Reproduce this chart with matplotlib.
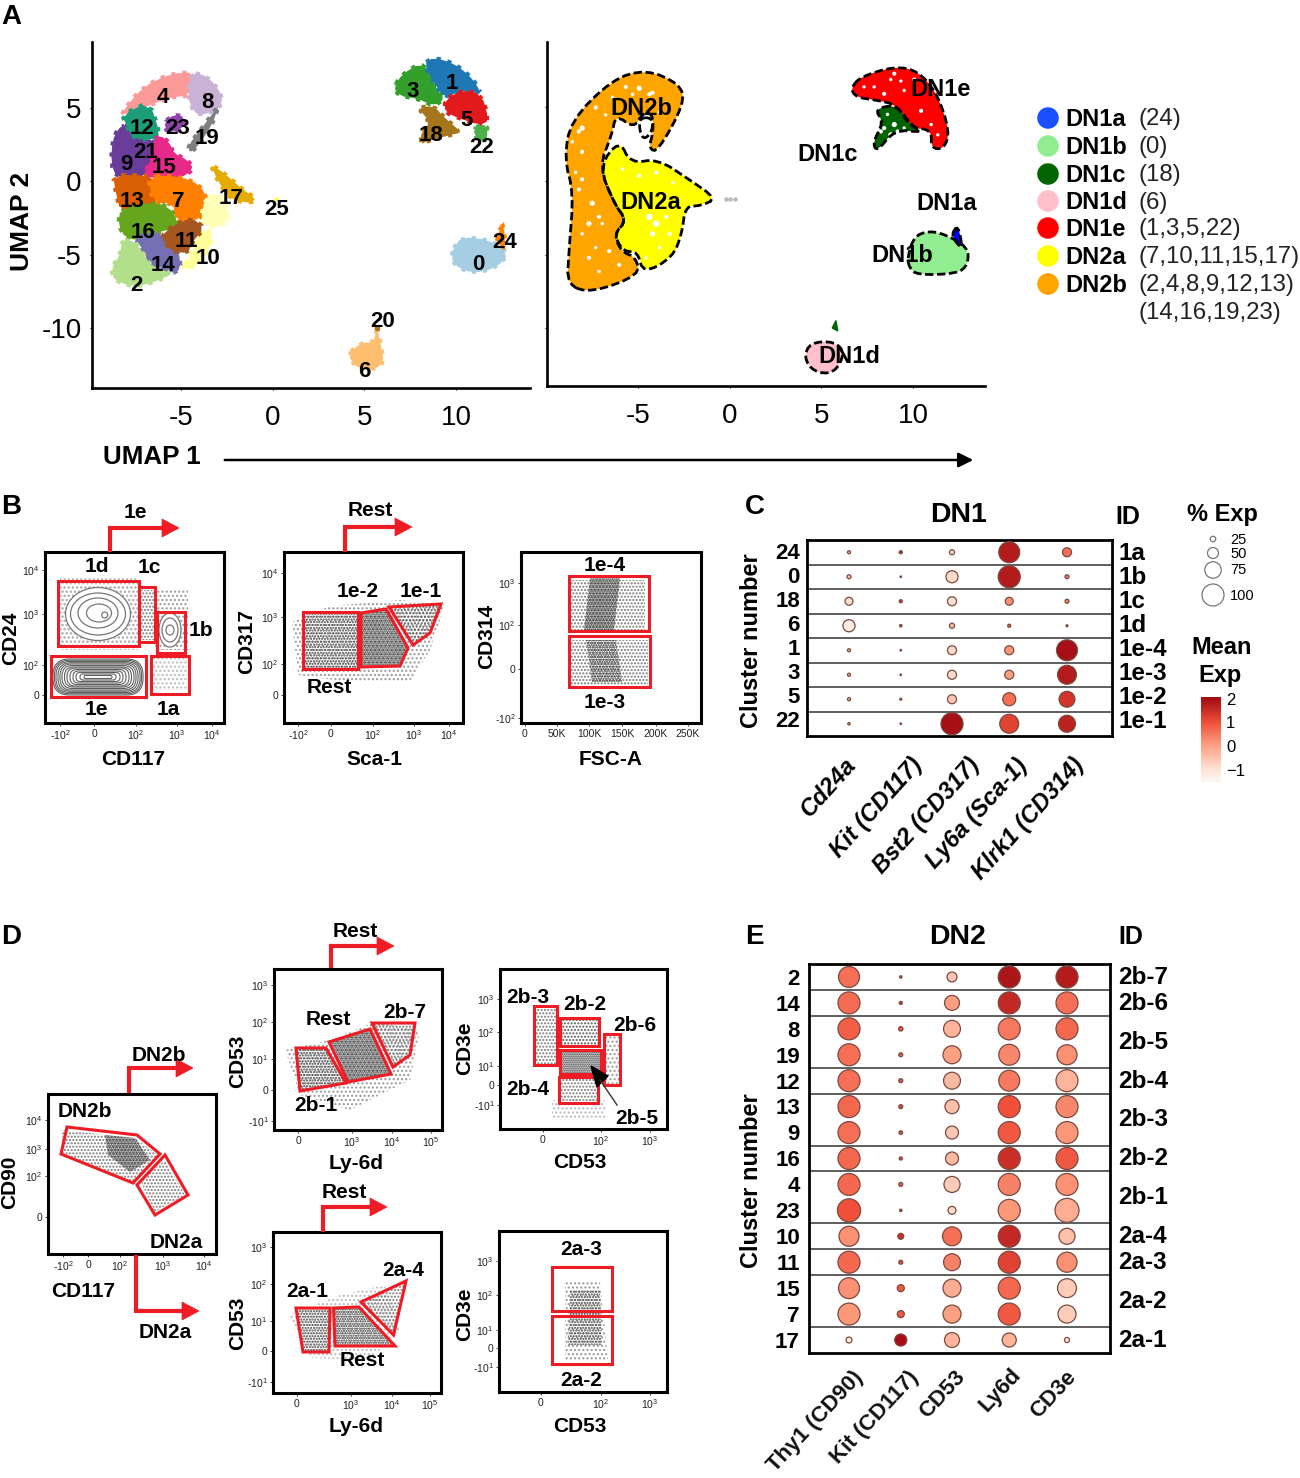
import numpy as np
import matplotlib
matplotlib.use('Agg')
import matplotlib.pyplot as plt
from matplotlib.patches import Polygon, Ellipse, FancyBboxPatch
from matplotlib.colors import LinearSegmentedColormap, Normalize

plt.rcParams['font.family'] = ['Liberation Sans', 'DejaVu Sans']
plt.rcParams['mathtext.fontset'] = 'custom'
plt.rcParams['mathtext.rm'] = 'Liberation Sans'
plt.rcParams['mathtext.bf'] = 'Liberation Sans:bold'
plt.rcParams['mathtext.default'] = 'regular'
plt.rcParams['axes.unicode_minus'] = False

W, H = 1300, 1478
RED = '#EE1C25'

# ---------- panel A data (UMAP coordinates) ----------
cluster_colors = {
    '2': '#B2DF8A', '10': '#FFFF99', '10b': '#FFFFB8', '4': '#FB9A99', '8': '#CAB2D6', '19': '#7F7F7F',
    '23': '#8E44AD', '12': '#1B9E77', '9': '#6A3D9A', '15': '#E7298A', '13': '#D95F02', '7': '#FF7F00',
    '16': '#66A61E', '14': '#7570B3', '11': '#A6561F', '17': '#E6AB02', '1': '#1F78B4', '3': '#33A02C',
    '5': '#E31A1C', '18': '#A6761D', '22': '#4DAF4A', '0': '#A6CEE3', '24': '#FF7F00', '6': '#FDBF6F',
    '20': '#A6761D',
}
cluster_shapes = {
    '4': [(-8.2,4.7),(-7.07,6.4),(-5.56,7.3),(-4.2,7.4),(-4.5,5.8),(-5.56,5.7),(-6.6,5.2),(-8,4.5)],
    '8': [(-4.4,7.4),(-3.5,7.1),(-2.7,5.8),(-2.9,4.9),(-4.05,4.4),(-4.5,5.2),(-4.6,6.1)],
    '19': [(-2.9,5.2),(-3.3,3.8),(-4.05,2.4),(-4.5,1.9),(-4.6,2.4),(-3.85,3.6),(-3.2,4.7)],
    '23': [(-5.9,4.0),(-5.4,4.5),(-4.8,4.4),(-4.9,3.5),(-5.75,3.3)],
    '9': [(-8.2,3.8),(-7.7,3.6),(-7.4,2.9),(-6.4,2.8),(-6.3,1.5),(-6.9,0.3),(-8.2,0.2),(-8.7,0.6),(-8.8,2),(-8.6,3.2)],
    '12': [(-8.2,4.5),(-6.7,5.4),(-6.1,3.1),(-6.5,2.8),(-7.6,2.9),(-7.9,3.6)],
    '15': [(-6.5,2.8),(-6.1,3.1),(-5.6,2.6),(-5.4,1.9),(-4.6,1.4),(-4.3,0.8),(-5,0.2),(-6.2,0.2),(-7.1,0.3),(-6.6,1.5)],
    '13': [(-8.7,0.4),(-6.8,0.4),(-6.3,-0.2),(-6.4,-1.9),(-8.3,-2),(-8.5,-1)],
    '7': [(-6.8,0.4),(-5,0.3),(-3.9,-0.3),(-3.5,-1.5),(-4.1,-2.8),(-5.3,-2.7),(-5.4,-1.5),(-6.5,-1.5)],
    '16': [(-8.3,-1.9),(-6.2,-1.4),(-5.3,-2.2),(-5.2,-3.2),(-6.3,-3.5),(-6.8,-4.1),(-8,-3.9),(-8.4,-3)],
    '10': [(-5,-5.9),(-4.4,-5),(-4.1,-3.8),(-3.6,-3.2),(-3.2,-3.9),(-3.8,-5.4),(-4.5,-6)],
    '10b': [(-3.7,-1.2),(-2.8,-0.8),(-2.3,-2.4),(-2.6,-3),(-3.5,-3.2),(-3.9,-2.6)],
    '14': [(-7.5,-3.9),(-6.3,-3.4),(-5.9,-3.9),(-5.1,-4.8),(-5.0,-6),(-5.5,-6.3),(-6.7,-5.8),(-7,-4.8)],
    '11': [(-5.4,-3),(-4.4,-2.5),(-3.7,-3.2),(-4.4,-4.2),(-4.6,-4.9),(-5.5,-4.8),(-6.1,-3.8)],
    '2': [(-8.2,-4.0),(-7.5,-4.1),(-7,-5),(-6.6,-5.8),(-5.4,-6.3),(-6.5,-6.9),(-7.5,-7.2),(-8.6,-6.8),(-8.8,-6),(-8.3,-5)],
    '17': [(-3.4,1.2),(-2.5,0.4),(-1.7,-0.5),(-0.9,-1.2),(-1.2,-1.5),(-2.2,-1.3),(-2.9,-0.2)],
    '3': [(6.6,6.4),(7.1,7.3),(8.05,8),(8.6,7.4),(8.9,6.3),(9.4,5.6),(8.8,5.1),(7.9,5.6),(6.9,5.8)],
    '1': [(8.24,8),(8.8,8.4),(9.9,8),(10.9,7),(11.4,5.9),(10.3,6.2),(9.4,5.6),(8.8,6.7)],
    '5': [(9.4,5.5),(10.3,6.2),(11.4,5.9),(11.8,4.1),(11.3,3.8),(10.1,4.3),(9.4,4.7)],
    '18': [(7.9,5),(8.8,5.1),(9.3,4.4),(10.3,3.3),(9.6,3.1),(8.4,2.7),(8.1,2.5),(8.1,3.3),(8.6,4)],
    '22': [(10.9,3.6),(11.7,3.9),(11.7,2.8),(11.2,2.7)],
    '0': [(9.75,-4.8),(10.3,-3.8),(11.8,-4),(12.9,-4.9),(12.2,-5.9),(10.9,-6.3),(9.85,-5.7)],
    '24': [(12.4,-3.2),(12.6,-3),(12.7,-4.6),(12.2,-4.2)],
    '6': [(4.08,-11.8),(4.85,-11),(5.5,-11),(5.7,-10),(5.9,-11.1),(6.07,-12.3),(5.6,-12.8),(4.65,-12.8)],
}
cluster_labels = ['4','8','12','23','19','21','9','15','13','7','17','25','16','11','14','10','2','3','1','5','18','22','24','0','20','6']
cluster_label_x = [163,207,142,178,207,146,126,164,132,178,231,277,143,186,163,208,136,413,452,467,431,482,505,478,383,364]
cluster_label_y = [96,101,127,127,137,151,163,166,200,200,197,208,231,240,264,257,284,90,82,119,134,146,241,263,320,370]

dn_colors = {'DN2b': '#FFA500', 'DN2a': '#FFFF00', 'DN1e': '#FF0000', 'DN1c': '#006400',
             'DN1b': '#90EE90', 'DN1a': '#0000FF', 'DN1d': '#FFC0CB'}
dn_shapes = {
    'DN2b': [(-8.85,-7.1),(-7.5,-7.6),(-4.9,-6.4),(-5.1,-5.2),(-5.9,-4.8),(-6.3,-3.6),(-5.6,-2.7),(-6.3,-1.5),(-7.1,1),(-6.4,3.2),(-6.2,4.5),
             (-5.2,3.6),(-4.75,4.6),(-4.2,4.6),(-4.15,3.4),(-4.4,2.2),(-3.9,2),(-2.45,5.3),(-2.7,6.6),(-4.55,7.6),(-6.4,6.9),(-8.65,4.1),(-9,1.5),(-8.5,-0.8),(-8.75,-4.8)],
    'DN2a': [(-6,2.8),(-5.4,1.2),(-3.9,1.5),(-2.2,0.1),(-0.7,-1.2),(-1.6,-1.7),(-2.4,-1.7),(-2.6,-3.6),(-3.1,-5.2),(-4.7,-6.3),(-5,-4.8),(-5.8,-4.8),(-6.3,-3.6),(-5.6,-2.7),(-6.3,-1.5),(-7.1,1)],
    'DN1e': [(6.6,6.3),(7.15,7.1),(9,7.8),(10.25,7.5),(11.3,6),(12,3.4),(11.7,2.2),(11,2.2),(11,3.5),(9.9,3.6),(9.1,5.2),(8,5.5),(6.9,5.7)],
    'DN1c': [(7.9,4.9),(9.1,5.2),(9.9,3.8),(10.6,3.3),(9,3.5),(8.05,2.0),(7.8,2.6),(8.4,4)],
    'DN1b': [(9.7,-5.2),(9.8,-5.9),(10.25,-6.4),(12.4,-6.3),(13,-5.7),(13,-4.5),(11.7,-3.6),(10.8,-3.4),(10.05,-3.8)],
    'DN1a': [(12.1,-3.6),(12.45,-3),(12.7,-4.5),(12.4,-4.3)],
    'DN1d': [(4.05,-12),(4.4,-11),(5.7,-10.9),(6.3,-11.7),(5.7,-13.1),(4.6,-13)],
}
# gaps between the cells in the right UMAP
speck_x = [-8.21,-8.03,-8.39,-8.03,-7.48,-7.11,-6.93,-7.66,-7.29,-6.56,-5.65,-4.92,-4.19,-3.46,-6.38,-7.29,-8.03,-8.57,-6.75,-3.82,
           -8.2,-7.66,-8.03,-7.11,-6.01,-4.37,-5.28,-4.37,-4.0,-4.19,-3.46,-3.82,-4.92,-4.0,-3.27,-3.82,-4.55,-5.83,-3.09,
           7.88,8.98,8.79,9.52,10.44,10.99,7.33,8.43,11.35,10.07,9.34,8.43,8.98,9.16,8.25,8.79,9.52,8.61]
speck_y = [3.37,3.6,0.58,0.12,-1.51,-2.44,-2.91,-5.23,-4.53,-4.77,6.4,6.3,6.0,5.3,5.7,5.0,1.98,2.67,4.5,4.7,
           -0.58,-2.9,-3.6,-6.16,-5.7,5.9,5.9,-2.44,-2.9,-3.6,-2.44,-1.74,0.35,0.58,-3.6,-4.53,-5.23,0.81,-0.12,
           6.4,7.3,6.9,6.16,4.77,3.84,6.4,5.93,3.14,6.9,6.8,3.6,3.84,3.37,3.37,3.14,3.6,4.53]
speck_s = [9,14,6,9,14,9,6,9,6,9,9,14,9,6,6,9,9,6,6,6,9,14,6,6,9,9,6,22,22,14,9,6,9,9,9,6,6,6,6,6,9,6,6,9,6,6,9,6,9,6,9,14,9,9,14,6,6]
dn_loop = [(-4.9,4.3),(-4.2,4.3),(-4.2,3.4),(-4.65,2.8),(-4.9,3.4)]
dn_tip = [(5.6,-10),(5.8,-9.5),(5.9,-10.2)]
dn_stray_x = [-0.2, 0.0, 0.3]
dn_stray_y = [-1.2, -1.2, -1.25]
dn_labels = ['DN2b','DN2a','DN1e','DN1c','DN1a','DN1b','DN1d']
dn_label_x = [641,651,941,828,947,902,849]
dn_label_y = [107,201,88,153,202,254,355]

legend_names = ['DN1a','DN1b','DN1c','DN1d','DN1e','DN2a','DN2b']
legend_ids = ['(24)','(0)','(18)','(6)','(1,3,5,22)','(7,10,11,15,17)','(2,4,8,9,12,13)']
umap_ticks_x = [-5, 0, 5, 10]
umap_ticks_y = [-10, -5, 0, 5]

# ---------- dot plots ----------
c_genes = ['Cd24a','Kit (CD117)','Bst2 (CD317)','Ly6a (Sca-1)','Klrk1 (CD314)']
c_clusters = ['24','0','18','6','1','3','5','22']
c_ids = ['1a','1b','1c','1d','1e-4','1e-3','1e-2','1e-1']
c_pct = [[14,14,23,95,41],[18,7,55,100,18],[36,14,41,36,18],[55,11,23,14,9],
         [14,7,41,41,95],[14,7,41,41,86],[14,9,41,59,72],[11,7,100,86,77]]
c_mean = [[-0.3,1.6,-0.8,1.8,0.6],[-0.5,1.9,-0.9,1.8,0.5],[-1,1.2,-1,0.2,0.4],[-1.3,1.0,-0.5,0.8,0.8],
          [-0.3,0.5,-0.9,0.1,2],[-0.3,0.5,-0.9,0,1.8],[-0.3,0.5,-0.6,0.6,1.4],[-0.3,0.5,2,1.2,1.7]]
c_breaks = [0.5,1.5,2.5,3.5,4.5,5.5,6.5]

e_genes = ['Thy1 (CD90)','Kit (CD117)','CD53','Ly6d','CD3e']
e_clusters = ['2','14','8','19','12','13','9','16','4','23','10','11','15','7','17']
e_ids = ['2b-7','2b-6','2b-5','2b-4','2b-3','2b-2','2b-1','2a-4','2a-3','2a-2','2a-1']
e_id_rows = [0,1,2.5,4,5.5,7,8.5,10,11,12.5,14]
e_pct = [[95,11,45,100,100],[100,14,68,100,100],[100,20,77,100,100],[100,18,82,95,91],[100,18,77,95,100],
         [100,18,64,100,100],[100,16,59,100,100],[100,14,59,100,100],[100,18,73,100,100],[105,11,36,100,109],
         [91,27,86,100,73],[100,18,77,100,91],[95,32,82,100,86],[100,32,82,100,82],[27,55,68,64,23]]
e_mean = [[0.6,1.2,-0.6,1.9,1.8],[0.65,1.2,0,1.6,0.6],[0.8,0.9,-0.3,0.5,0.7],[0.6,0.9,0,0.3,0.2],[0.6,1,-0.4,0.5,-0.3],
          [0.7,1.1,-0.5,1,0.3],[0.6,1.1,-0.6,0.9,0.1],[0.7,1.1,-0.4,1.5,0.9],[0.7,0.8,-0.7,0.4,0.2],[1,1.1,-0.9,0.1,-0.2],
          [0.2,1.5,0.6,1.6,-0.5],[0.7,1.1,0.4,1.2,0.2],[0.2,0.9,-0.2,0.7,-0.7],[0.1,0.9,0,0.9,-0.7],[-1.2,2,-0.3,-0.3,-1.2]]
e_breaks = [0.5,1.5,3.5,4.5,6.5,7.5,9.5,10.5,11.5,13.5]

size_legend = [25,50,75,100]
cbar_ticks = [2,1,0,-1]

# ---------- flow panels, in reference pixel channels ----------
e2 = '$10^{2}$'; e3 = '$10^{3}$'; e4 = '$10^{4}$'; e5 = '$10^{5}$'; e1 = '$10^{1}$'
m2 = '-$10^{2}$'; m1 = '-$10^{1}$'

flow_panels = [
    dict(box=(45,224,552,723), xt=[60,94,136,177,212], xl=[m2,'0',e2,e3,e4], yt=[570,614,665,695], yl=[e4,e3,e2,'0'],
         clouds=[([(60,585),(138,585),(138,645),(60,645)],'..'),([(60,578),(138,578),(138,650),(60,650)],'.'),
                 ([(140,590),(154,590),(154,640),(140,640)],'...'),([(155,590),(188,590),(188,650),(155,650)],'..'),
                 ([(153,658),(187,658),(187,690),(153,690)],'.')],
         gates=[[(57.6,581),(139,581),(139,646),(57.6,646)],[(139,587),(155,587),(155,642),(139,642)],
                [(157,612),(185,612),(185,653),(157,653)],[(51,656),(146,656),(146,697),(51,697)],
                [(151,656),(189,656),(189,694),(151,694)]]),
    dict(box=(284,463,552,723), xt=[298,331,373,414,449], xl=[m2,'0',e2,e3,e4], yt=[573,617,664,695], yl=[e4,e3,e2,'0'],
         clouds=[([(292,622),(330,606),(400,600),(445,605),(430,650),(410,682),(350,682),(298,675)],'..'),
                 ([(303,612),(358,612),(358,669),(303,669)],'.....'),
                 ([(361,613),(386,609),(408,648),(400,666),(361,667)],'.......'),
                 ([(389,607),(441,604),(430,633),(413,645)],'....')],
         gates=[[(303,612),(358,612),(358,669),(303,669)],[(361,613),(386,609),(408,648),(400,666),(361,667)],
                [(389,607),(441,604),(430,633),(413,645)]]),
    dict(box=(521,701,552,723), xt=[525,557,589,622,656,688], xl=['0','50K','100K','150K','200K','250K'],
         yt=[583,625,669,718], yl=[e3,e2,'0','-$10^{2}$'],
         clouds=[([(570,580),(645,580),(645,630),(570,630)],'...'),([(590,578),(620,578),(614,630),(584,630)],'.......'),
                 ([(570,640),(648,640),(648,685),(570,685)],'...'),([(586,640),(616,640),(622,682),(592,682)],'......')],
         gates=[[(568.7,576),(648.7,576),(648.7,631),(568.7,631)],[(568.7,636),(650,636),(650,687),(568.7,687)]]),
    dict(box=(48,216,1094,1254), xt=[63,88,120,163,204], xl=[m2,'0',e2,e3,e4], yt=[1120,1149,1176,1217], yl=[e4,e3,e2,'0'],
         clouds=[([(62,1130),(135,1138),(158,1155),(133,1182),(62,1153)],'...'),
                 ([(105,1135),(135,1138),(150,1160),(130,1172),(108,1155)],'.......'),
                 ([(140,1180),(165,1160),(185,1195),(155,1212)],'...')],
         gates=[[(67,1127),(137,1135),(160,1154),(133,1183),(61,1154)],[(165,1155),(188,1195),(155,1215),(137,1185)]]),
    dict(box=(274,442,969,1130), xt=[298,352,392,431], xl=['0',e3,e4,e5], yt=[985,1022,1059,1090,1121], yl=[e3,e2,e1,'0',m1],
         clouds=[([(285,1050),(330,1040),(375,1022),(420,1030),(410,1080),(350,1110),(300,1095)],'..'),
                 ([(296,1048),(326,1048),(346,1083),(300,1091)],'.....'),
                 ([(329,1042),(370,1029),(391,1074),(348,1082)],'.......'),
                 ([(372,1023),(415,1023),(410,1055),(393,1067)],'...')],
         gates=[[(296,1048),(326,1048),(346,1083),(300,1091)],[(329,1042),(370,1029),(391,1074),(348,1082)],
                [(372,1023),(415,1023),(410,1055),(393,1067)]]),
    dict(box=(500,667,969,1129), xt=[543,601,650], xl=['0',e2,e3], yt=[999,1032,1066,1085,1105], yl=[e3,e2,e1,'0',m1],
         clouds=[([(533,1006),(556,1006),(556,1065),(533,1065)],'...'),([(560,1018),(599,1018),(599,1046),(560,1046)],'....'),
                 ([(560,1050),(601,1050),(601,1074),(560,1074)],'.......'),([(559,1076),(598,1076),(598,1103),(559,1103)],'...'),
                 ([(604,1034),(620,1034),(620,1085),(604,1085)],'..'),([(552,1100),(605,1100),(605,1120),(552,1120)],'.')],
         gates=[[(533.5,1006),(556.5,1006),(556.5,1065),(533.5,1065)],[(560,1018),(599,1018),(599,1046),(560,1046)],
                [(560,1050),(601,1050),(601,1074),(560,1074)],[(559,1076.5),(598,1076.5),(598,1103),(559,1103)],
                [(603.5,1034),(620,1034),(620,1085),(603.5,1085)]]),
    dict(box=(273,441,1232,1393), xt=[297,351,392,430], xl=['0',e3,e4,e5], yt=[1247,1284,1321,1351,1382], yl=[e3,e2,e1,'0',m1],
         clouds=[([(288,1315),(340,1295),(385,1285),(400,1330),(370,1360),(310,1358)],'.'),
                 ([(296,1308),(330,1308),(329,1352),(303,1352)],'.....'),
                 ([(333.5,1308),(359,1307),(395,1346),(335,1346)],'......'),
                 ([(361,1302),(406,1281),(393.5,1335)],'...')],
         gates=[[(296,1308),(330,1308),(329,1352),(303,1352)],[(333.5,1308),(359,1307),(395,1346),(335,1346)],
                [(361,1302),(406,1281),(393.5,1335)]]),
    dict(box=(499,667,1231,1392), xt=[541,601,650], xl=['0',e2,e3], yt=[1261,1295,1330,1348,1367], yl=[e3,e2,e1,'0',m1],
         clouds=[([(565,1282),(600,1282),(608,1360),(565,1360)],'..'),([(570,1290),(600,1290),(602,1345),(568,1345)],'.....')],
         gates=[[(552,1267),(612,1267),(612,1311),(552,1311)],[(552,1316),(612,1316),(612,1364),(552,1364)]]),
]

# hatch stand-ins for dot density: (pattern, colour)
density_style = {'.': ('....', '#BBBBBB'), '..': ('....', '#999999'), '...': ('.....', '#777777'), '....': ('.....', '#555555'),
                 '.....': ('......', '#444444'), '......': ('.......', '#333333'), '.......': ('........', '#222222')}

contour_1d_w = [65,55,40,25,6]
contour_1d_h = [53,42,30,18,6]
contour_1d_x = [98,98,98,99,104.7]
contour_1d_y = [614,614,613,613,615]
contour_1b_w = [22,16,8]
contour_1b_h = [34,24,10]
contour_1e_w = [90,87,84,80,76,72,67,62,56,50,44,36,28]
contour_1e_h = [36,33.5,31,28.5,26,23,20,18,15,12,9,6,3]

flow_texts = ['1e','1d','1c','1b','1e','1a','Rest','1e-2','1e-1','Rest','1e-4','1e-3',
              'DN2b','DN2b','DN2a','DN2a','Rest','Rest','2b-7','2b-1','2b-3','2b-2','2b-6','2b-4','2b-5',
              'Rest','Rest','2a-1','2a-4','2a-3','2a-2']
flow_text_x = [135,97,149,201,96,168,370,358,421,329,605,605,
               159,85,176,165,355,328,405,316,528,585,635,528,637,
               344,362,307,403,581,581]
flow_text_y = [511,565,566,629,708,708,509,590,590,686,564,701,
               1054,1110,1241,1331,930,1018,1011,1104,996,1003,1024,1088,1117,
               1191,1359,1290,1269,1248,1379]
flow_axis_labels = ['CD117','CD24','Sca-1','CD317','FSC-A','CD314','CD117','CD90','Ly-6d','CD53','CD53','CD3e','Ly-6d','CD53','CD53','CD3e']
flow_axis_x = [133,11,374,247,611,487,83,10,356,238,580,465,356,238,580,465]
flow_axis_y = [758,637,758,640,758,635,1290,1181,1162,1060,1161,1047,1425,1322,1425,1313]
flow_axis_rot = [0,90,0,90,0,90,0,90,0,90,0,90,0,90,0,90]

red_arrows = [[(110,552),(110,528),(162,528)],[(345,552),(345,527),(395,527)],[(129,1093),(129,1068),(176,1068)],
              [(331,968),(331,946),(377,946)],[(136,1255),(136,1311),(182,1311)],[(323,1232),(323,1207),(370,1207)]]


def chaikin(pts, n=2):
    pts = np.asarray(pts, float)
    for _ in range(n):
        nxt = np.roll(pts, -1, axis=0)
        pts = np.column_stack([0.75*pts + 0.25*nxt, 0.25*pts + 0.75*nxt]).reshape(-1, 2)
    return pts


def add_px_axes(fig, l, r, t, b):
    return fig.add_axes([l/W, 1-b/H, (r-l)/W, (b-t)/H])


fig = plt.figure(figsize=(13, 14.78), dpi=100)

# panel A, left and right UMAP
for side, (l, r, t, b, x0) in enumerate([(92,530,42,388,272.5), (547,985,42,386,729.5)]):
    ax = add_px_axes(fig, l, r, t, b)
    ax.set_xlim((l-x0)/18.35, (r-x0)/18.35)
    ax.set_ylim((181-b)/14.7, (181-t)/14.7)
    for s in ['top','right']:
        ax.spines[s].set_visible(False)
    for s in ['left','bottom']:
        ax.spines[s].set_linewidth(1.9)
    ax.set_xticks(umap_ticks_x)
    ax.set_yticks(umap_ticks_y)
    ax.tick_params(length=1.5, width=0.8, labelsize=20, pad=6)
    ax.tick_params(axis='x', pad=11)
    if side == 1:
        ax.set_yticklabels([])
        for name in ['DN2b','DN2a','DN1e','DN1c','DN1b','DN1a','DN1d']:
            ax.add_patch(Polygon(chaikin(dn_shapes[name]), fc=dn_colors[name], ec='none'))
        ax.scatter(speck_x, speck_y, s=speck_s, c='white', linewidths=0, marker='o', zorder=2)
        ax.add_patch(Polygon(dn_tip, fc=dn_colors['DN1c'], ec=dn_colors['DN1c'], lw=1))
        ax.scatter(dn_stray_x, dn_stray_y, s=5, c='#BBBBBB')
        for name in ['DN2b','DN2a','DN1e','DN1c','DN1b','DN1a','DN1d']:
            ax.add_patch(Polygon(chaikin(dn_shapes[name]), fill=False, ec='black', lw=2, ls=(0,(3,1.3)), zorder=3))
        ax.add_patch(Polygon(chaikin(dn_loop), fill=False, ec='black', lw=2, ls=(0,(3,1.3)), zorder=3))
    else:
        for name, pts in cluster_shapes.items():
            c = cluster_colors[name]
            ax.add_patch(Polygon(chaikin(pts, 1), fc=c, ec=c, lw=3, ls=':'))
        ax.plot([5.7], [-10], marker='o', ms=3, color=cluster_colors['20'])
        ax.plot([0.2], [-1.2], marker='o', ms=2, color='#FFFF33')

# flow panels
for p in flow_panels:
    l, r, t, b = p['box']
    ax = add_px_axes(fig, l, r, t, b)
    ax.set_xlim(l, r)
    ax.set_ylim(b, t)
    for s in ax.spines.values():
        s.set_linewidth(2.2)
    ax.set_xticks(p['xt'])
    ax.set_xticklabels(p['xl'])
    ax.set_yticks(p['yt'])
    ax.set_yticklabels(p['yl'])
    ax.tick_params(labelsize=7.5, length=2, width=0.6, pad=2, colors='#222222')
    for pts, level in p['clouds']:
        hatch, col = density_style[level]
        ax.add_patch(Polygon(pts, fc='none', ec=col, lw=0, hatch=hatch, zorder=1))
    if p is flow_panels[0]:
        for w_, h_, x_, y_ in zip(contour_1d_w, contour_1d_h, contour_1d_x, contour_1d_y):
            ax.add_patch(Ellipse((x_, y_), w_, h_, fc='white' if w_ == contour_1d_w[0] else 'none', ec='#777777', lw=0.9, zorder=2))
        for w_, h_ in zip(contour_1b_w, contour_1b_h):
            ax.add_patch(Ellipse((170, 630), w_, h_, fc='white' if w_ == contour_1b_w[0] else 'none', ec='#777777', lw=0.9, zorder=2))
        for w_, h_ in zip(contour_1e_w, contour_1e_h):
            ax.add_patch(FancyBboxPatch((98-w_/2, 677-h_/2), w_, h_, boxstyle='round,pad=0,rounding_size=%g' % (h_/2.2),
                                        fc='none', ec='#606060', lw=0.8, zorder=2))
    for pts in p['gates']:
        ax.add_patch(Polygon(pts, fill=False, ec=RED, lw=2.2, joinstyle='miter', zorder=3))

# dot plots
norm = Normalize(-1.5, 2)
cmap = LinearSegmentedColormap.from_list('exp', [(0, '#FFF5F0'), (0.143, '#FEE0D2'), (0.429, '#FCA082'), (0.714, '#F0503A'), (1, '#A50F15')])
col_pos = [0, 0.95, 1.89, 2.94, 4]


def dot_panel(box, pct, mean, breaks):
    l, r, t, b = box
    ax = add_px_axes(fig, l, r, t, b)
    n = len(pct)
    ax.set_xlim((l-849)/54.5, (r-849)/54.5)
    ax.set_ylim(n-0.5, -0.5)
    xx, yy, ss, cc = [], [], [], []
    for i in range(n):
        for j in range(5):
            xx.append(col_pos[j])
            yy.append(i)
            ss.append((pct[i][j]*0.22*0.72)**2)
            cc.append(mean[i][j])
    for y in breaks:
        ax.axhline(y, color='#333333', lw=1.1)
    ax.scatter(xx, yy, s=ss, c=cc, cmap=cmap, norm=norm, edgecolors='#7a4a40', linewidths=0.9, zorder=3)
    ax.set_xticks([])
    ax.set_yticks([])
    for s in ax.spines.values():
        s.set_linewidth(2)
    return ax


dot_panel((807,1112,540,736), c_pct, c_mean, c_breaks)
dot_panel((809,1110,964,1353), e_pct, e_mean, e_breaks)

# colour bar
cax = add_px_axes(fig, 1201, 1221, 697, 782)
cax.imshow(np.linspace(2.1, -1.6, 200)[:, None], aspect='auto', cmap=cmap, norm=norm, extent=(0, 1, -1.5, 2.1))
cax.set_axis_off()

# overlay for text, arrows and legend markers
ov = fig.add_axes([0, 0, 1, 1], facecolor='none')
ov.set_xlim(0, W)
ov.set_ylim(H, 0)
ov.set_axis_off()


def T(x, y, s, size=13, weight='bold', **kw):
    kw.setdefault('ha', 'center')
    kw.setdefault('va', 'center')
    ov.text(x, y+1.5, s, fontsize=size, fontweight=weight, **kw)


for s, x, y in zip('ABCDE', [11,11,755,11,754], [15,505,506,935,935]):
    T(x, y, s, size=20)
for s, x, y in zip(cluster_labels, cluster_label_x, cluster_label_y):
    T(x, y, s, size=16)
for s, x, y in zip(dn_labels, dn_label_x, dn_label_y):
    T(x, y, s, size=17)
T(22, 220, 'UMAP 2', size=19, rotation=90)
T(152, 456, 'UMAP 1', size=18.7)
ov.annotate('', xy=(976, 460), xytext=(222, 460), arrowprops=dict(arrowstyle='-|>', color='black', lw=1.8, mutation_scale=22))

legend_y = [118,146,174,201,228,256,284]
ov.scatter([1048]*7, legend_y, s=210, c=[dn_colors[n] if n != 'DN1a' else '#1A4FFF' for n in legend_names], zorder=3)
for n, ids, y in zip(legend_names, legend_ids, legend_y):
    T(1065, y, n, size=17, ha='left')
    T(1138, y, ids, size=17.3, weight='normal', ha='left', color='#222222')
T(1138, 312, '(14,16,19,23)', size=17.3, weight='normal', ha='left', color='#222222')

for s, x, y in zip(flow_texts, flow_text_x, flow_text_y):
    T(x, y, s, size=15)
for s, x, y, rot in zip(flow_axis_labels, flow_axis_x, flow_axis_y, flow_axis_rot):
    T(x, y, s, size=15, rotation=rot)

for pts in red_arrows:
    pts = np.array(pts)
    ov.plot(pts[:, 0], pts[:, 1], color=RED, lw=3, solid_joinstyle='miter', solid_capstyle='butt')
    ex, ey = pts[-1]
    ov.add_patch(Polygon([(ex, ey-9), (ex+17, ey), (ex, ey+9)], fc=RED, ec=RED, lw=0.5))

# small arrow to the 2b-5 gate
ov.plot([617, 600], [1105, 1080], color='#333333', lw=1)
ov.add_patch(Polygon([(591, 1066), (608, 1076), (597, 1087)], fc='black', ec='black'))

# dot plot text
T(958, 513, 'DN1', size=20.5)
T(1128, 515, 'ID', size=18)
T(751, 639, 'Cluster number', size=17, rotation=90)
for i, (s, i_) in enumerate(zip(c_clusters, c_ids)):
    y = 552 + i*24
    T(800, y, s, size=16, ha='right')
    T(1118, y, i_, size=17.5, ha='left')
for s, x in zip(c_genes, [852,918,976,1024,1080]):
    T(x, 760, s, size=17, style='italic', ha='right', va='center', rotation=48, rotation_mode='anchor')

T(958, 935, 'DN2', size=20.5)
T(1131, 936, 'ID', size=18)
T(751, 1179, 'Cluster number', size=17, rotation=90)
for i, s in enumerate(e_clusters):
    T(800, 978 + i*25.9, s, size=16, ha='right')
for r_, s in zip(e_id_rows, e_ids):
    T(1118, 976 + r_*25.9, s, size=17.5, ha='left')
for s, x, y in zip(e_genes, [860,915,962,1018,1073], [1373,1373,1372,1370,1372]):
    T(x, y, s, size=16, ha='right', va='center', rotation=47, rotation_mode='anchor', color='#111111')

# size and colour legends
T(1222, 513, '% Exp', size=17)
size_y = [539,553,570,595]
ov.scatter([1213]*4, size_y, s=[(v*0.22*0.72)**2 for v in size_legend], fc='white', ec='#777777', lw=0.9)
for v, y in zip(size_legend, size_y):
    T(1230, y-1, str(v), size=10.5, weight='normal', ha='left')
T(1222, 646, 'Mean', size=17)
T(1220, 674, 'Exp', size=17)
for v, y in zip(cbar_ticks, [700,723,747,771]):
    T(1226, y-1, str(v).replace('-', '\u2212'), size=12, weight='normal', ha='left')

fig.savefig('out.png', dpi=100)
